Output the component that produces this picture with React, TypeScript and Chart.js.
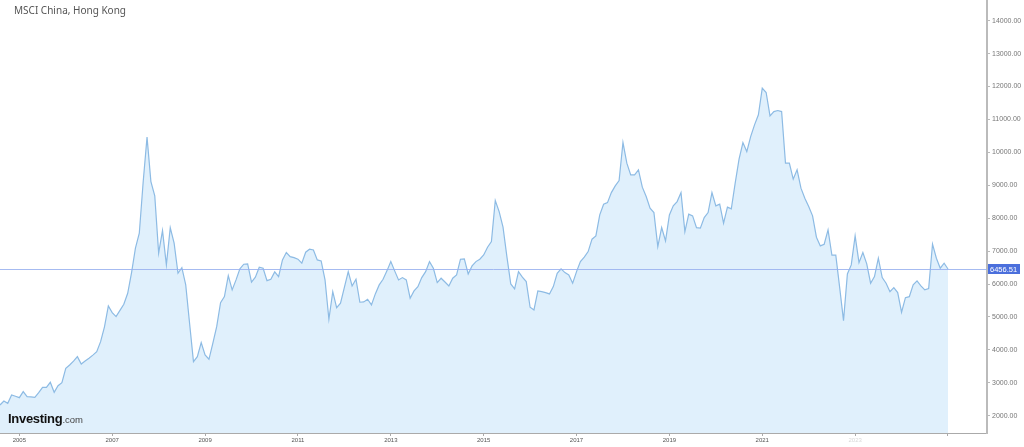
import React, { useEffect, useRef } from 'react';
import { Chart, registerables } from 'chart.js';

Chart.register(...registerables);

const TITLE = 'MSCI China, Hong Kong';
const START_YEAR = 2004;
const START_MONTH = 8;

const v2004 = [2325, 2447, 2377, 2629, 2590];
const v2005 = [2547, 2730, 2578, 2570, 2559, 2700, 2863, 2863, 3015, 2711, 2912, 3003];
const v2006 = [3441, 3541, 3660, 3793, 3571, 3660, 3745, 3840, 3945, 4249, 4700, 5334];
const v2007 = [5131, 5009, 5200, 5386, 5720, 6347, 7088, 7544, 9100, 10462, 9112, 8678];
const v2008 = [6936, 7623, 6581, 7714, 7240, 6328, 6498, 5973, 4800, 3641, 3793, 4219];
const v2009 = [3845, 3714, 4200, 4705, 5435, 5617, 6255, 5821, 6125, 6459, 6602, 6611];
const v2010 = [6055, 6207, 6511, 6480, 6103, 6146, 6368, 6225, 6733, 6955, 6833, 6800];
const v2011 = [6754, 6632, 6967, 7058, 7036, 6733, 6702, 6125, 4930, 5769, 5283, 5416];
const v2012 = [5900, 6377, 5942, 6146, 5447, 5456, 5538, 5365, 5700, 5973, 6146, 6400];
const v2013 = [6681, 6400, 6125, 6195, 6125, 5568, 5790, 5921, 6195, 6377, 6681, 6480];
const v2014 = [6043, 6176, 6060, 5942, 6176, 6277, 6754, 6763, 6307, 6550, 6681, 6754];
const v2015 = [6884, 7118, 7289, 8535, 8201, 7726, 6833, 6003, 5851, 6377, 6207, 6073];
const v2016 = [5295, 5213, 5790, 5769, 5739, 5699, 5921, 6328, 6459, 6347, 6277, 6024];
const v2017 = [6377, 6681, 6815, 6985, 7362, 7462, 8100, 8425, 8474, 8778, 8982, 9143];
const v2018 = [10298, 9672, 9316, 9316, 9468, 8942, 8657, 8304, 8170, 7137, 7714, 7310];
const v2019 = [8100, 8374, 8505, 8778, 7593, 8122, 8070, 7714, 7696, 8018, 8170, 8778];
const v2020 = [8374, 8425, 7848, 8334, 8283, 9064, 9793, 10298, 10024, 10480, 10836, 11140];
const v2021 = [11951, 11818, 11109, 11240, 11271, 11240, 9672, 9672, 9185, 9468, 8912, 8608];
const v2022 = [8353, 8070, 7422, 7158, 7210, 7644, 6875, 6875, 5900, 4888, 6307, 6581];
const v2023 = [7462, 6650, 6955, 6611, 6024, 6225, 6784, 6195, 6024, 5769, 5891, 5739];
const v2024 = [5143, 5587, 5617, 5973, 6094, 5942, 5821, 5860, 7210, 6784, 6480, 6632];
const v2025 = [6456.51];

const yearlyValues = [
  v2004, v2005, v2006, v2007, v2008, v2009, v2010, v2011, v2012, v2013, v2014,
  v2015, v2016, v2017, v2018, v2019, v2020, v2021, v2022, v2023, v2024, v2025,
];

const LAST_PRICE = 6456.51;
const yTicks = [2000, 3000, 4000, 5000, 6000, 7000, 8000, 9000, 10000, 11000, 12000, 13000, 14000];
const xTicks = [2005, 2007, 2009, 2011, 2013, 2015, 2017, 2019, 2021, 2023, 2025];
const xTickLabels = ['2005', '2007', '2009', '2011', '2013', '2015', '2017', '2019', '2021', '2023', ''];

const X_MIN = 2004 + 7 / 12;
const X_MAX = 2025.84;
const Y_MIN = 1474;
const Y_MAX = 14629;

function buildPoints() {
  const pts: { x: number; y: number }[] = [];
  yearlyValues.forEach((arr, yi) => {
    const year = START_YEAR + yi;
    const firstMonth = yi === 0 ? START_MONTH : 1;
    arr.forEach((v, mi) => {
      pts.push({ x: year + (firstMonth + mi - 1) / 12, y: v });
    });
  });
  return pts;
}

const priceLinePlugin = {
  id: 'priceLine',
  afterDatasetsDraw(chart: any) {
    const { ctx, chartArea, scales } = chart;
    const y = Math.round(scales.y.getPixelForValue(LAST_PRICE)) + 0.5;
    ctx.save();
    ctx.strokeStyle = 'rgba(150,175,238,0.85)';
    ctx.lineWidth = 1;
    ctx.beginPath();
    ctx.moveTo(chartArea.left, y);
    ctx.lineTo(chartArea.right, y);
    ctx.stroke();
    ctx.restore();
  },
  afterDraw(chart: any) {
    const { ctx, chartArea, scales } = chart;
    const y = scales.y.getPixelForValue(LAST_PRICE);
    const x = chartArea.right + 1;
    ctx.save();
    ctx.fillStyle = '#4b6fdc';
    ctx.fillRect(x, y - 5, 32, 10);
    ctx.fillStyle = '#ffffff';
    ctx.font = '7.5px "Liberation Sans", Arial, sans-serif';
    ctx.textBaseline = 'middle';
    ctx.textAlign = 'left';
    ctx.fillText(LAST_PRICE.toFixed(2), x + 2, y + 0.5);
    ctx.restore();
  },
};

export default function App() {
  const canvasRef = useRef<HTMLCanvasElement | null>(null);

  useEffect(() => {
    if (!canvasRef.current) return;
    const chart = new Chart(canvasRef.current, {
      type: 'line',
      data: {
        datasets: [
          {
            data: buildPoints(),
            borderColor: '#8dbbe4',
            borderWidth: 1.2,
            backgroundColor: 'rgba(222,239,252,0.95)',
            fill: 'origin',
            pointRadius: 0,
            tension: 0,
          },
        ],
      },
      options: {
        animation: false,
        responsive: false,
        layout: { padding: 0 },
        plugins: { legend: { display: false }, tooltip: { enabled: false } },
        scales: {
          x: {
            type: 'linear',
            min: X_MIN,
            max: X_MAX,
            afterBuildTicks: (s: any) => {
              s.ticks = xTicks.map((v) => ({ value: v }));
            },
            afterFit: (s: any) => {
              s.height = 14;
              s.paddingLeft = 0;
              s.paddingRight = 0;
            },
            ticks: {
              autoSkip: false,
              maxRotation: 0,
              padding: 1,
              color: (c: any) => (c.tick && c.tick.value === 2023 ? '#d8d8d8' : '#555'),
              font: { size: 6, family: '"Liberation Sans", Arial, sans-serif' },
              callback: (_v: any, i: number) => xTickLabels[i],
            },
            grid: { drawOnChartArea: false, drawTicks: true, tickLength: 3, color: '#aaa' },
            border: { color: '#aaa', width: 1 },
          },
          y: {
            type: 'linear',
            position: 'right',
            min: Y_MIN,
            max: Y_MAX,
            afterBuildTicks: (s: any) => {
              s.ticks = yTicks.map((v) => ({ value: v }));
            },
            afterFit: (s: any) => {
              s.width = 37;
              s.paddingTop = 0;
              s.paddingBottom = 0;
            },
            ticks: {
              padding: 2,
              color: '#777',
              font: { size: 7, family: '"Liberation Sans", Arial, sans-serif' },
              callback: (v: any) => Number(v).toFixed(2),
            },
            grid: { drawOnChartArea: false, drawTicks: true, tickLength: 3, color: '#bbb' },
            border: { color: '#bbb', width: 2 },
          },
        },
      },
      plugins: [priceLinePlugin],
    });
    return () => chart.destroy();
  }, []);

  return (
    <div style={{ position: 'fixed', left: 0, top: 0, width: 1024, height: 447, background: '#fff', overflow: 'hidden' }}>
      <canvas ref={canvasRef} width={1024} height={447} style={{ display: 'block' }} />
      <div
        style={{
          position: 'absolute',
          left: 14,
          top: 3,
          fontFamily: '"Noto Sans", sans-serif',
          fontSize: 10,
          lineHeight: '14px',
          color: '#555',
          whiteSpace: 'nowrap',
        }}
      >
        {TITLE}
      </div>
      <div
        style={{
          position: 'absolute',
          left: 8,
          top: 411,
          fontFamily: '"Liberation Sans", Arial, sans-serif',
          lineHeight: '13px',
          whiteSpace: 'nowrap',
          color: '#111',
        }}
      >
        <span style={{ fontSize: 13, fontWeight: 700, letterSpacing: -0.3 }}>Investing</span>
        <span style={{ fontSize: 9.5, color: '#444' }}>.com</span>
      </div>
    </div>
  );
}
